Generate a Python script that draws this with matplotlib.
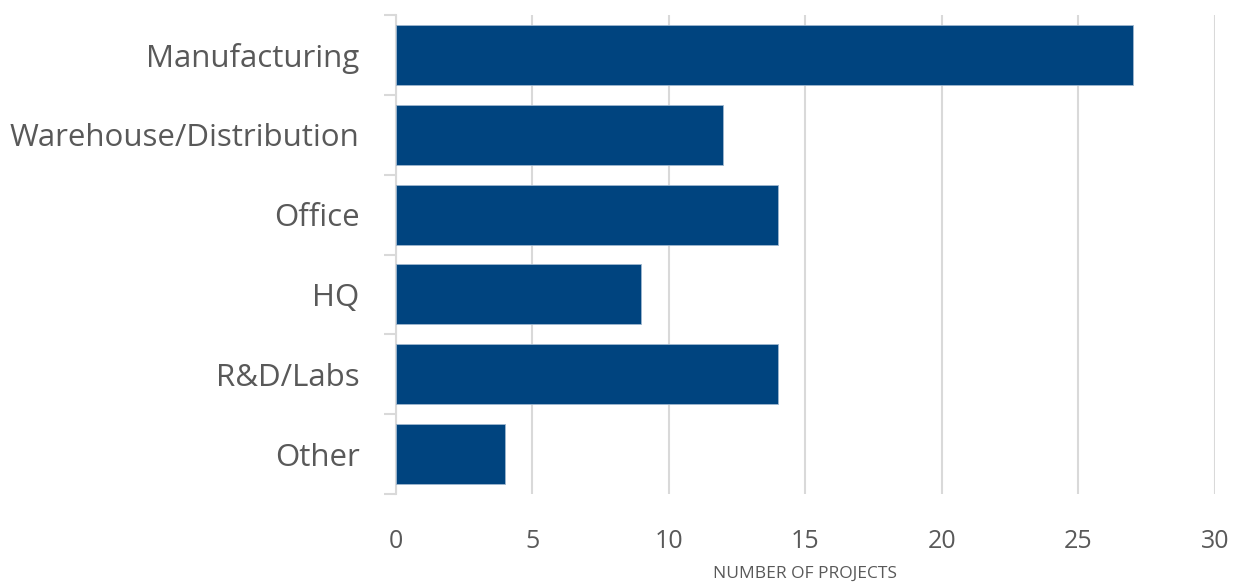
import matplotlib
matplotlib.use("Agg")
import matplotlib.pyplot as plt
import numpy as np

categories = ["Manufacturing", "Warehouse/Distribution", "Office", "HQ", "R&D/Labs", "Other"]
values = [27, 12, 14, 9, 14, 4]
xticks = [0, 5, 10, 15, 20, 25, 30]
xlabel = "NUMBER OF PROJECTS"

plt.rcParams['font.family'] = ['Open Sans', 'DejaVu Sans']

fig = plt.figure(figsize=(12.44, 5.84), dpi=100)
ax = fig.add_axes([395.5/1244, 90/584, (1215-395.5)/1244, (494-15)/584])

y = np.arange(len(categories))
ax.barh(y, values, height=0.75, color="#00447f", edgecolor="#9fb7cf", linewidth=0.6, zorder=3)

ax.set_ylim(len(categories) - 0.5, -0.5)
ax.set_xlim(0, 30)
ax.set_xticks(xticks)
ax.set_xticklabels([str(t) for t in xticks])
ax.set_yticks(y)
ax.set_yticklabels(categories)
ax.set_yticks(np.arange(-0.5, len(categories)), minor=True)

ax.grid(axis="x", color="#d9d9d9", linewidth=1.5, zorder=0)
for s in ["top", "right", "bottom"]:
    ax.spines[s].set_visible(False)
ax.spines["left"].set_color("#d9d9d9")
ax.spines["left"].set_linewidth(1.5)

ax.tick_params(axis="y", which="major", length=0, pad=26, labelsize=22.5, labelcolor="#595959")
ax.tick_params(axis="y", which="minor", length=9, width=1.5, color="#d9d9d9")
ax.tick_params(axis="x", which="major", length=0, pad=25, labelsize=18, labelcolor="#595959")

ax.set_xlabel(xlabel, fontsize=12.5, color="#595959", labelpad=9)

fig.savefig("out.png", dpi=100)
